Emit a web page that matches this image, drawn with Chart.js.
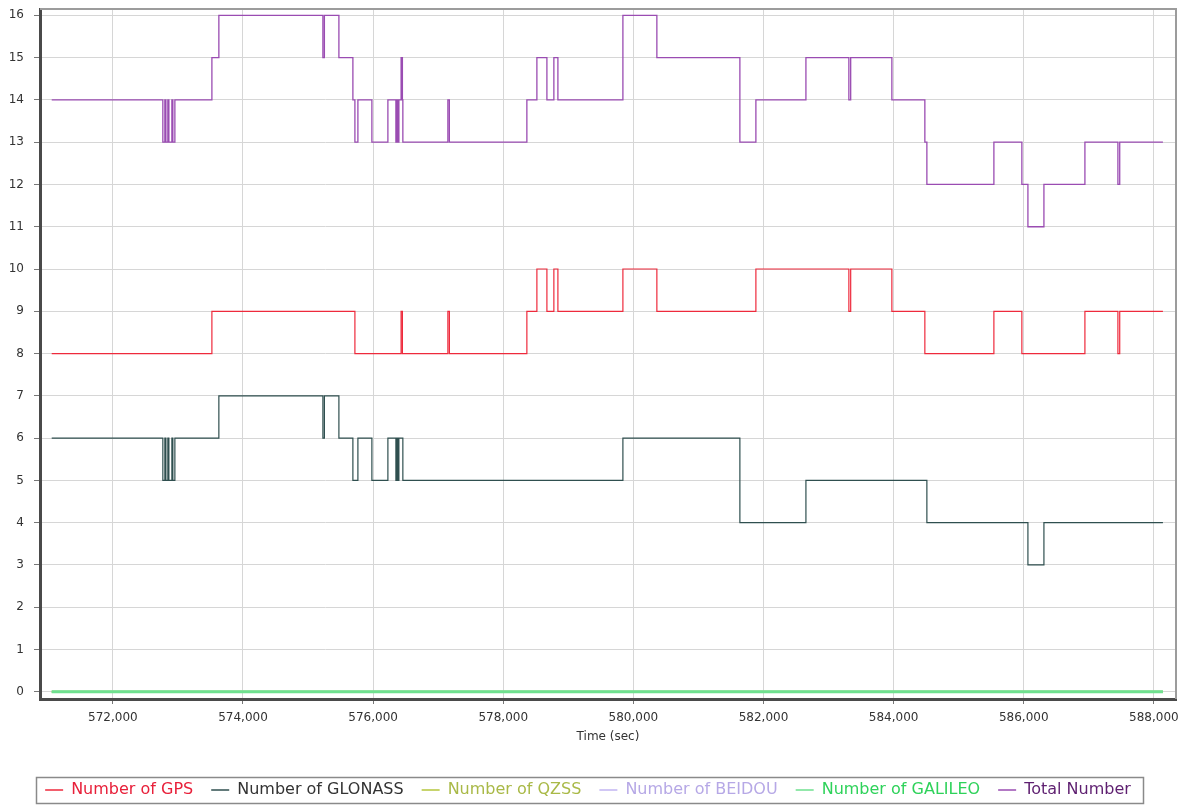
<!DOCTYPE html>
<html>
<head>
<meta charset="utf-8">
<title>Number of satellites</title>
<script src="https://cdn.jsdelivr.net/npm/chart.js@4.4.1/dist/chart.umd.min.js"></script>
<style>
  html, body { margin: 0; padding: 0; background: #fff; }
  #wrap { width: 1192px; height: 808px; }
</style>
</head>
<body>
<div id="wrap"><canvas id="satChart" width="1192" height="808"></canvas></div>
<script>
// ---- Data ----
// Time (sec) where a count changes; each value holds until the next time
const timeSec = [
  571060, 572768, 572799, 572815, 572845, 572861, 572907, 572922, 572953,
  573522, 573629, 575228, 575251, 575474, 575689, 575720, 575766, 575981,
  576227, 576350, 576365, 576381, 576396, 576430, 576450, 576457, 577149,
  577172, 578363, 578517, 578671, 578778, 578840, 579839, 580361, 581637,
  581883, 582652, 583312, 583340, 583973, 584480, 584511, 585541, 585971,
  586064, 586310, 586940, 587447, 587475, 588139
];
const gpsCount = [
  8, 8, 8, 8, 8, 8, 8, 8, 8,
  9, 9, 9, 9, 9, 9, 8, 8, 8,
  8, 8, 8, 8, 8, 9, 8, 8, 9,
  8, 9, 10, 9, 10, 9, 10, 9, 9,
  10, 10, 9, 10, 9, 8, 8, 9, 8,
  8, 8, 9, 8, 9, 9
];
const glonassCount = [
  6, 5, 6, 5, 6, 5, 6, 5, 6,
  6, 7, 6, 7, 6, 5, 5, 6, 5,
  6, 5, 6, 5, 6, 6, 6, 5, 5,
  5, 5, 5, 5, 5, 5, 6, 6, 4,
  4, 5, 5, 5, 5, 5, 4, 4, 4,
  3, 4, 4, 4, 4, 4
];
const totalCount = [
  14, 13, 14, 13, 14, 13, 14, 13, 14,
  15, 16, 15, 16, 15, 14, 13, 14, 13,
  14, 13, 14, 13, 14, 15, 14, 13, 14,
  13, 14, 15, 14, 15, 14, 16, 15, 13,
  14, 15, 14, 15, 14, 13, 12, 13, 12,
  11, 12, 13, 12, 13, 13
];
// systems with no satellites over the whole span
const zeroTime     = [571060, 588139];
const qzssCount    = [0, 0];
const beidouCount  = [0, 0];
const galileoCount = [0, 0];

const xTicks = [572000, 574000, 576000, 578000, 580000, 582000, 584000, 586000, 588000];
const yTicks = [0, 1, 2, 3, 4, 5, 6, 7, 8, 9, 10, 11, 12, 13, 14, 15, 16];

// ---- helpers ----
const toPoints = (xs, ys) => xs.map((x, i) => ({ x, y: ys[i] }));
const FONT = 'DejaVu Sans, Verdana, sans-serif';

function stepLine(label, xs, ys, color, legendColor, width, order = 0) {
  return {
    label,
    data: toPoints(xs, ys),
    borderColor: color,
    backgroundColor: color,
    legendColor,
    borderWidth: width,
    stepped: true,
    pointRadius: 0,
    fill: false,
    order
  };
}

// gray frame on top / right of the plot
const plotFrame = {
  id: 'plotFrame',
  afterDatasetsDraw(chart) {
    const { ctx, chartArea: a } = chart;
    ctx.save();
    ctx.strokeStyle = '#9c9c9c';
    ctx.lineWidth = 2;
    ctx.beginPath();
    ctx.moveTo(a.left, a.top);
    ctx.lineTo(a.right, a.top);
    ctx.lineTo(a.right, a.bottom);
    ctx.stroke();
    ctx.restore();
  }
};

// box around the legend row
const legendFrame = {
  id: 'legendFrame',
  afterDraw(chart) {
    const boxes = chart.legend && chart.legend.legendHitBoxes;
    if (!boxes || !boxes.length) return;
    const left  = Math.min(...boxes.map(b => b.left)) - 9;
    const right = Math.max(...boxes.map(b => b.left + b.width)) + 12;
    const midY  = boxes[0].top + boxes[0].height / 2;
    const ctx = chart.ctx;
    ctx.save();
    ctx.strokeStyle = '#8a8a8a';
    ctx.lineWidth = 1.5;
    ctx.strokeRect(Math.round(left) + 0.5, Math.round(midY - 13) + 0.5, Math.round(right - left), 26);
    ctx.restore();
  }
};

const datasets = [
  stepLine('Number of GPS',     timeSec,  gpsCount,     '#ee2a3c', '#e8203a', 1.2),
  stepLine('Number of GLONASS', timeSec,  glonassCount, '#2f4f4f', '#333333', 1.2),
  stepLine('Number of QZSS',    zeroTime, qzssCount,    '#b4c63c', '#a9b947', 2),
  stepLine('Number of BEIDOU',  zeroTime, beidouCount,  '#c2b4f2', '#b6a8e6', 2),
  stepLine('Number of GALILEO', zeroTime, galileoCount, '#6fe08f', '#2ed25a', 3, -1),
  stepLine('Total Number',      timeSec,  totalCount,   '#9a4cb2', '#5e1f70', 1.3)
];

new Chart(document.getElementById('satChart').getContext('2d'), {
  type: 'line',
  data: { datasets },
  options: {
    responsive: false,
    animation: false,
    layout: { padding: { top: 9, right: 16, bottom: 0, left: 0 } },
    plugins: {
      tooltip: { enabled: false },
      legend: {
        position: 'bottom',
        labels: {
          font: { family: FONT, size: 16 },
          padding: 18,
          usePointStyle: true,
          pointStyleWidth: 18,
          generateLabels: chart => chart.data.datasets.map((ds, i) => ({
            text: ds.label,
            fillStyle: ds.borderColor,
            strokeStyle: ds.borderColor,
            fontColor: ds.legendColor,
            lineWidth: 1.5,
            pointStyle: 'line',
            hidden: false,
            datasetIndex: i
          }))
        }
      }
    },
    scales: {
      x: {
        type: 'linear',
        min: 570880,
        max: 588340,
        afterBuildTicks: s => { s.ticks = xTicks.map(v => ({ value: v })); },
        afterFit: s => { s.height = 65; },
        ticks: {
          autoSkip: false,
          maxRotation: 0,
          padding: 7,
          color: '#333',
          font: { family: FONT, size: 12 },
          callback: v => v.toLocaleString('en-US')
        },
        grid: { color: '#d6d6d6', lineWidth: 1, tickLength: 5, tickColor: '#777' },
        border: { color: '#4a4a4a', width: 3 },
        title: {
          display: true,
          text: 'Time (sec)',
          color: '#333',
          font: { family: FONT, size: 12 },
          padding: { top: 2, bottom: 20 }
        }
      },
      y: {
        type: 'linear',
        min: -0.17,
        max: 16.15,
        afterBuildTicks: s => { s.ticks = yTicks.map(v => ({ value: v })); },
        afterFit: s => {
          s.width = 40;
          // labels may overhang the frame, like the original
          s.paddingTop = 0;
          s.paddingBottom = 0;
        },
        ticks: {
          padding: 10,
          color: '#333',
          font: { family: FONT, size: 12 }
        },
        grid: { color: '#d6d6d6', lineWidth: 1, tickLength: 6, tickColor: '#777' },
        border: { color: '#4a4a4a', width: 3 }
      }
    }
  },
  plugins: [plotFrame, legendFrame]
});
</script>
</body>
</html>
